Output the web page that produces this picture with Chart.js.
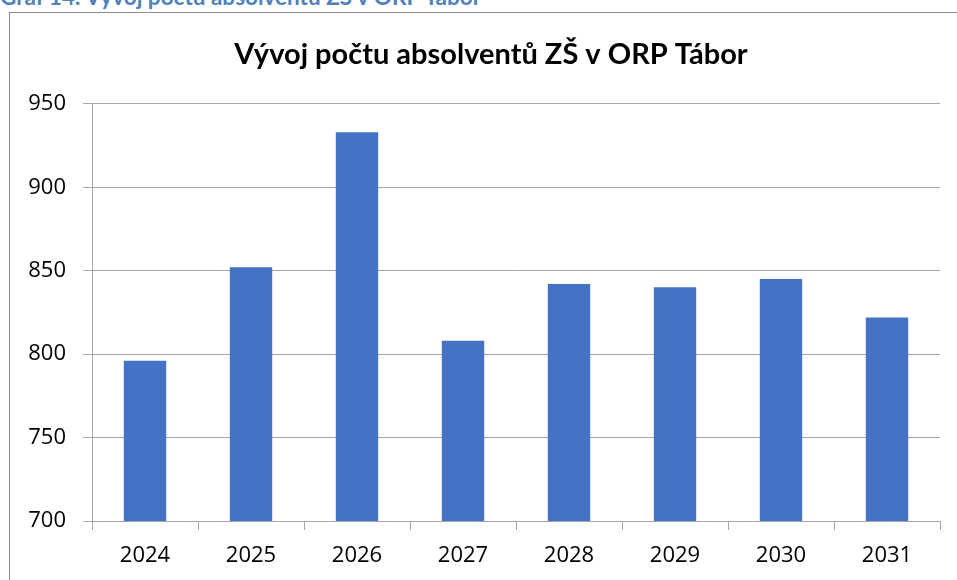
<!DOCTYPE html>
<html>
<head>
<meta charset="utf-8">
<script src="https://cdn.jsdelivr.net/npm/chart.js@4"></script>
<style>
  html, body { margin:0; padding:0; background:#fff; overflow:hidden; }
  #wrap { position:relative; width:957px; height:580px; }
  #caption { position:absolute; left:0; top:-14px; font-family:Lato, sans-serif; font-weight:bold; font-size:22.5px; line-height:22px; color:#4F81BD; white-space:nowrap; }
  #frame { position:absolute; left:9px; top:12px; width:960px; height:600px; border:1px solid #8c8c8c; box-sizing:border-box; }
  canvas { position:absolute; left:0; top:0; }
</style>
</head>
<body>
<div id="wrap">
  <div id="caption">Graf 14: Vývoj počtu absolventů ZŠ v ORP Tábor</div>
  <div id="frame"></div>
  <canvas id="c" width="957" height="580"></canvas>
</div>
<script>
const categories = ["2024", "2025", "2026", "2027", "2028", "2029", "2030", "2031"];
const graduates = [796, 852, 933, 808, 842, 840, 845, 822];
const chartTitle = "Vývoj počtu absolventů ZŠ v ORP Tábor";
const yMin = 700, yMax = 950, yStep = 50;

const gridColor = "#a6a6a6";
const tickFont = { family: "'Open Sans', sans-serif", size: 22 };

const shiftTitle = {
  id: "shiftTitle",
  afterLayout(chart) {
    if (chart.titleBlock) { chart.titleBlock.left = 42; }
  }
};

new Chart(document.getElementById("c"), {
  type: "bar",
  data: {
    labels: categories,
    datasets: [{
      label: "Absolventi ZŠ",
      data: graduates,
      backgroundColor: "#4472C4",
      borderWidth: 0,
      categoryPercentage: 1.0,
      barPercentage: 0.4
    }]
  },
  plugins: [shiftTitle],
  options: {
    responsive: false,
    animation: false,
    layout: { padding: { left: 0, right: 17, top: 0, bottom: 0 } },
    plugins: {
      legend: { display: false },
      tooltip: { enabled: false },
      title: {
        display: true,
        text: chartTitle,
        color: "#000",
        font: { family: "Lato, sans-serif", size: 29, weight: "bold" },
        padding: { top: 37, bottom: 32 }
      }
    },
    scales: {
      x: {
        afterFit: s => { s.height = 59; },
        grid: { display: true, drawOnChartArea: false, drawTicks: true, tickLength: 9, color: gridColor, lineWidth: 1 },
        border: { display: true, color: gridColor, width: 1 },
        ticks: { color: "#000", font: tickFont, padding: 13, maxRotation: 0 }
      },
      y: {
        min: yMin, max: yMax,
        afterFit: s => { s.width = 92; },
        grid: { display: true, drawOnChartArea: true, drawTicks: true, tickLength: 9, color: gridColor, lineWidth: 1 },
        border: { display: true, color: gridColor, width: 1 },
        ticks: { stepSize: yStep, color: "#000", font: tickFont, padding: 17 }
      }
    }
  }
});
</script>
</body>
</html>
